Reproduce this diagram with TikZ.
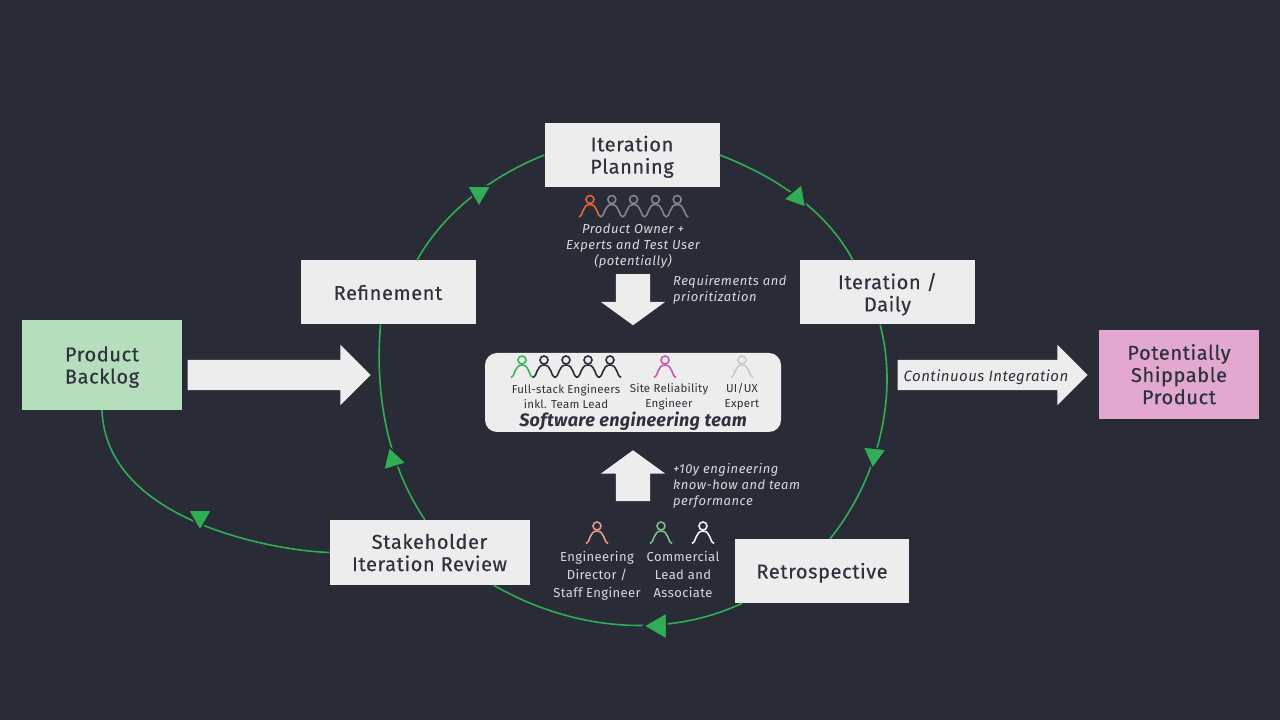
\documentclass[tikz,border=0pt]{standalone}
\usepackage{fontspec}
\setmainfont{Fira Sans}
\newfontfamily\mediumfont[FakeBold=0.35]{Fira Sans}
\usetikzlibrary{shapes.geometric}
\usetikzlibrary{shapes.arrows}

\definecolor{bgdark}{HTML}{292B37}
\definecolor{boxwhite}{HTML}{EDEDED}
\definecolor{loopgreen}{HTML}{2FAE55}
\definecolor{backloggreen}{HTML}{B5DFBC}
\definecolor{productpink}{HTML}{E2A8CF}
\definecolor{softtext}{HTML}{DADADA}
\definecolor{inktext}{HTML}{2F313C}
\definecolor{ownerorange}{HTML}{E0663C}
\definecolor{expertgray}{HTML}{84858C}
\definecolor{leadgreen}{HTML}{3DB65C}
\definecolor{reliabilitypink}{HTML}{C65BAA}
\definecolor{uxgray}{HTML}{C9C9C9}
\definecolor{directorsalmon}{HTML}{E39A8A}
\definecolor{commercialgreen}{HTML}{7DBB88}

\newcommand{\lowered}[1]{\raisebox{-3pt}[\height][\depth]{\begin{tabular}{@{}c@{}}#1\end{tabular}}}

\tikzset{
	stepbox/.style={ draw=none, fill=boxwhite, text=inktext, inner sep=0pt, minimum width=175pt, minimum height=64pt, font=\mediumfont\fontsize{20}{22.2}\selectfont\addfontfeature{LetterSpace=3} },
	noteleft/.style={ text=softtext, align=left, anchor=west, inner sep=0pt, font=\fontsize{13}{16}\selectfont\itshape\addfontfeature{LetterSpace=4} },
	notemid/.style={ text=softtext, align=center, inner sep=0pt, font=\fontsize{13}{16}\selectfont\itshape\addfontfeature{LetterSpace=4} },
	rolenote/.style={ text=softtext, align=center, inner sep=0pt, font=\fontsize{13}{17.7}\selectfont\addfontfeature{LetterSpace=3} },
	teamnote/.style={ text=inktext, align=center, inner sep=0pt, font=\fontsize{11.5}{15}\selectfont\addfontfeature{LetterSpace=2} },
	bigarrow/.style={ single arrow, draw=none, fill=boxwhite, inner sep=0pt, single arrow head indent=0pt },
	tipmark/.style={ regular polygon, regular polygon sides=3, fill=loopgreen, draw=bgdark, line width=1.6pt, inner sep=0pt, minimum size=27.5pt },
	loopline/.style={ draw=loopgreen, line width=1.6pt, looseness=0.87 },
	person/.pic={
		\draw[ line width=1.6pt, #1 ] (0, 0) circle [radius=4];
		\draw[ line width=1.6pt, #1 ] (-11, -17.5) .. controls (-7, -17.5) and (-8, -5) .. (0, -5) .. controls (8, -5) and (7, -17.5) .. (11, -17.5);
	}
}

\begin{document}
\begin{tikzpicture}[ x=1pt, y=1pt ]

	\fill[ bgdark ] (0, 0) rectangle (1280, 720);
	\useasboundingbox (0, 0) rectangle (1280, 720);

	\def\rowtop{520.5}
	\def\rowteam{360}
	\def\rowlow{194}

	\node[ stepbox ] (planning) at (632, 565) {\lowered{Iteration\\Planning}};
	\node[ stepbox ] (refinement) at (388, 427.5) {\lowered{Refinement}};
	\node[ stepbox ] (daily) at (887.5, 427.5) {\lowered{Iteration /\\Daily}};
	\node[ stepbox, minimum width=200pt, minimum height=65pt ] (stakeholder) at (429.5, 167.5) {\lowered{Stakeholder\\Iteration Review}};
	\node[ stepbox, minimum width=174pt ] (retro) at (822, 149) {\lowered{Retrospective}};
	\node[ stepbox, fill=backloggreen, minimum width=160pt, minimum height=90pt ] (backlog) at (102, 355) {\lowered{Product\\Backlog}};
	\node[ stepbox, fill=productpink, minimum width=160pt, minimum height=89pt ] (product) at (1179, 345.5) {\lowered{Potentially\\Shippable\\Product}};

	\draw[ loopline ] (planning.east) to[ out=-21, in=118 ] (daily.137);
	\draw[ loopline ] (daily.257) to[ out=-75, in=51 ] (retro.76);
	\draw[ loopline, looseness=0.9 ] (retro.202) to[ out=205, in=-30 ] (stakeholder.-27);
	\draw[ loopline ] (stakeholder.98) to[ out=124, in=-95 ] (refinement.257);
	\draw[ loopline ] (refinement.48) to[ out=61, in=-158 ] (planning.west);
	\draw[ loopline ] (backlog.south) to[ out=-88, in=178, out looseness=1.05, in looseness=0.55 ] (stakeholder.west);

	\node[ tipmark, rotate=100 ] (tipr) at (797, 523) {};
	\node[ tipmark, rotate=174 ] (tipd) at (874, 265) {};
	\node[ tipmark, rotate=90, minimum size=31pt ] (tipb) at (659, 94) {};
	\node[ tipmark, rotate=17 ] (tipl) at (393, 260) {};
	\node[ tipmark, rotate=180 ] (tipt) at (479, 527) {};
	\node[ tipmark, rotate=180 ] (tipo) at (200, 203) {};

	\node[ bigarrow, inner ysep=15pt, minimum height=183pt, minimum width=60pt, single arrow head extend=15pt, single arrow tip angle=90 ] (feedarrow) at (271.5, 345) {};
	\node[ bigarrow, inner ysep=15pt, minimum height=190pt, minimum width=60pt, single arrow head extend=15pt, single arrow tip angle=90 ] (shiparrow) at (985, 345) {};
	\node[ bigarrow, inner xsep=17pt, minimum height=51pt, minimum width=64pt, single arrow head extend=15pt, single arrow tip angle=108, shape border rotate=270 ] (downarrow) at (633, 426.5) {};
	\node[ bigarrow, inner xsep=17pt, minimum height=51pt, minimum width=64pt, single arrow head extend=15pt, single arrow tip angle=108, shape border rotate=90 ] (uparrow) at (633, 238) {};

	\node[ text=inktext, inner sep=0pt, font=\fontsize{15}{18}\selectfont\itshape\addfontfeature{LetterSpace=3} ] (cilabel) at (986, 343) {Continuous Integration};

	\node[ fill=boxwhite, rounded corners=12pt, minimum width=296pt, minimum height=79pt, inner sep=0pt ] (teambox) at (633, 327.5) {};

	\foreach \i in {0, ..., 4} {
		\ifnum\i=0
			\pic at (590+\i*21.8, \rowtop) {person={color=ownerorange}};
			\pic at (522+\i*22, \rowteam) {person={color=leadgreen}};
		\else
			\pic at (590+\i*21.8, \rowtop) {person={color=expertgray}};
			\pic at (522+\i*22, \rowteam) {person={color=bgdark}};
		\fi
	}
	\pic at (665, \rowteam) {person={color=reliabilitypink}};
	\pic at (742, \rowteam) {person={color=uxgray}};
	\pic at (597, \rowlow) {person={color=directorsalmon}};
	\pic at (661, \rowlow) {person={color=commercialgreen}};
	\pic at (703, \rowlow) {person={color=white!95!black}};

	\node[ notemid ] (ownernote) at (633, 474) {Product Owner +\\Experts and Test User\\(potentially)};
	\node[ noteleft ] (reqnote) at (673, 430) {Requirements and\\prioritization};
	\node[ noteleft ] (knownote) at (673, 234) {+10y engineering\\know-how and team\\performance};
	\node[ rolenote ] (directornote) at (597, 144) {Engineering\\Director /\\Staff Engineer};
	\node[ rolenote ] (commercialnote) at (683, 145.5) {Commercial\\Lead and\\Associate};
	\node[ teamnote ] (fullnote) at (566, 323.5) {Full-stack Engineers\\inkl. Team Lead};
	\node[ teamnote ] (sitenote) at (669, 323.5) {Site Reliability\\Engineer};
	\node[ teamnote ] (uxnote) at (742, 323.5) {UI/UX\\Expert};
	\node[ text=inktext, inner sep=0pt, font=\fontsize{18}{20}\selectfont\bfseries\itshape\addfontfeature{LetterSpace=2} ] (teamtitle) at (633, 298.5) {Software engineering team};

\end{tikzpicture}
\end{document}
